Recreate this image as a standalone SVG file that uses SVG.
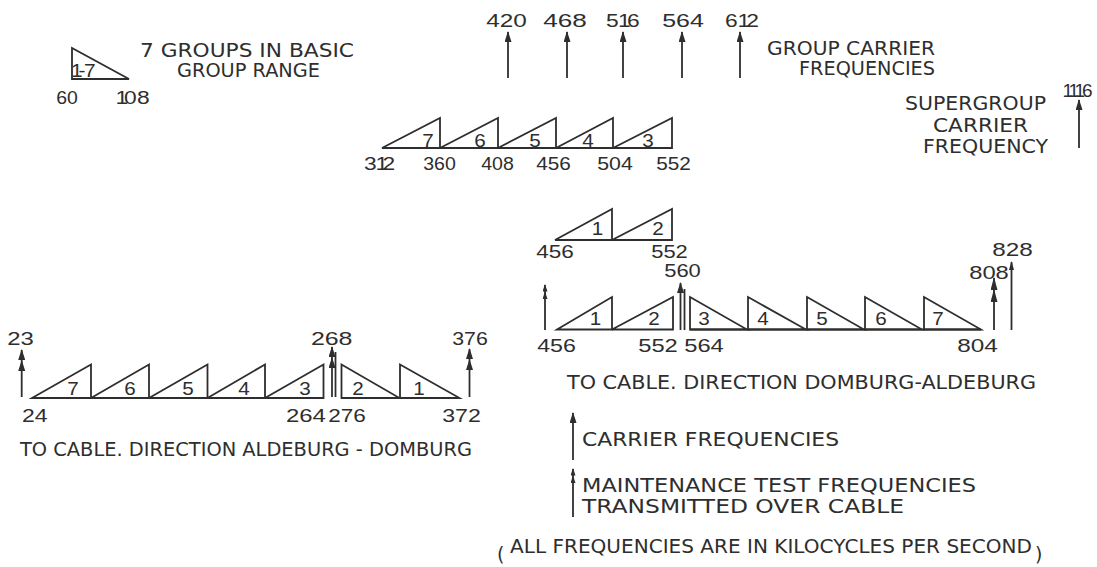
<svg xmlns="http://www.w3.org/2000/svg" width="1097" height="567" viewBox="0 0 1097 567">
<style>
.ln{fill:none;stroke:#2e2e2e;stroke-width:1.8;stroke-linejoin:miter}
.ar{fill:none;stroke:#2e2e2e;stroke-width:1.8}
.t{font-family:"DejaVu Sans","Liberation Sans",sans-serif;fill:#2e2e2e;font-size:19px}
.n{font-family:"Liberation Sans",Arial,sans-serif;fill:#2e2e2e;font-size:19px}
</style>
<defs>
<marker id="a1" markerUnits="userSpaceOnUse" viewBox="0 0 11 7" refX="10" refY="3.5" markerWidth="11" markerHeight="7" orient="auto"><path d="M0,0 L11,3.5 L0,7 Z" fill="#2e2e2e"/></marker>
<marker id="a1s" markerUnits="userSpaceOnUse" viewBox="0 0 9 5" refX="8" refY="2.5" markerWidth="9" markerHeight="5" orient="auto"><path d="M0,0 L9,2.5 L0,5 Z" fill="#2e2e2e"/></marker>
<marker id="a2" markerUnits="userSpaceOnUse" viewBox="0 0 22 7" refX="21" refY="3.5" markerWidth="22" markerHeight="7" orient="auto"><path d="M11,0 L22,3.5 L11,7 Z M0,0 L11,3.5 L0,7 Z" fill="#2e2e2e"/></marker>
<marker id="a2l" markerUnits="userSpaceOnUse" viewBox="0 0 25 7" refX="24" refY="3.5" markerWidth="25" markerHeight="7" orient="auto"><path d="M12,0 L25,3.5 L12,7 Z M0,0 L13,3.5 L0,7 Z" fill="#2e2e2e"/></marker>
<marker id="a2s" markerUnits="userSpaceOnUse" viewBox="0 0 15 5" refX="14" refY="2.5" markerWidth="15" markerHeight="5" orient="auto"><path d="M7.5,0 L15,2.5 L7.5,5 Z M0,0 L7.5,2.5 L0,5 Z" fill="#2e2e2e"/></marker>
</defs>
<rect width="1097" height="567" fill="#ffffff"/>

<g id="legend-basic-group">
<path class="ln" d="M72,48 L72,79 L129,79 Z"/>
<g transform="translate(71,0) scale(1.1,1)"><text class="n" x="0 6.8 11.8" y="77" font-size="17">1-7</text></g>
<text class="n" x="56.2" y="104" textLength="21.6" lengthAdjust="spacingAndGlyphs">60</text>
<g transform="translate(115.5,0) scale(1.2,1)"><text class="n" x="0 7.1 17.9" y="104">108</text></g>
<text class="t" x="140" y="57" textLength="214" lengthAdjust="spacingAndGlyphs">7 GROUPS IN BASIC</text>
<text class="t" x="177" y="77" textLength="143" lengthAdjust="spacingAndGlyphs">GROUP RANGE</text>
</g>

<g id="group-carrier-frequencies">
<text class="n" x="486.2" y="27" textLength="40.6" lengthAdjust="spacingAndGlyphs">420</text>
<text class="n" x="543.2" y="27" textLength="43.6" lengthAdjust="spacingAndGlyphs">468</text>
<g transform="translate(606,0) scale(1.2,1)"><text class="n" x="0 10 17.6" y="27">516</text></g>
<text class="n" x="662.2" y="27" textLength="41.6" lengthAdjust="spacingAndGlyphs">564</text>
<g transform="translate(725,0) scale(1.2,1)"><text class="n" x="0 10.4 17.7" y="27">612</text></g>
<text class="t" x="767" y="55" textLength="168" lengthAdjust="spacingAndGlyphs">GROUP CARRIER</text>
<text class="t" x="799" y="75" textLength="136" lengthAdjust="spacingAndGlyphs">FREQUENCIES</text>
</g>

<g id="supergroup-carrier">
<text class="n" x="1062.5 1068.5 1074.5 1082" y="97">1116</text>
<text class="t" x="905" y="110" textLength="141" lengthAdjust="spacingAndGlyphs">SUPERGROUP</text>
<text class="t" x="933" y="132" textLength="95" lengthAdjust="spacingAndGlyphs">CARRIER</text>
<text class="t" x="923" y="153" textLength="125" lengthAdjust="spacingAndGlyphs">FREQUENCY</text>
</g>

<g id="basic-supergroup">
<g id="sg-7"><path class="ln" d="M382,148 L440,118 L440,148 Z"/><text class="n" x="422.2" y="147" textLength="11.5" lengthAdjust="spacingAndGlyphs">7</text></g>
<g id="sg-6"><path class="ln" d="M440,148 L498,118 L498,148 Z"/><text class="n" x="474.2" y="147" textLength="11.5" lengthAdjust="spacingAndGlyphs">6</text></g>
<g id="sg-5"><path class="ln" d="M498,148 L556,118 L556,148 Z"/><text class="n" x="529.2" y="147" textLength="11.5" lengthAdjust="spacingAndGlyphs">5</text></g>
<g id="sg-4"><path class="ln" d="M556,148 L613,118 L613,148 Z"/><text class="n" x="582.2" y="147" textLength="11.5" lengthAdjust="spacingAndGlyphs">4</text></g>
<g id="sg-3"><path class="ln" d="M613,148 L672,118 L672,148 Z"/><text class="n" x="642.2" y="147" textLength="11.5" lengthAdjust="spacingAndGlyphs">3</text></g>
<g transform="translate(364,0) scale(1.2,1)"><text class="n" x="0 9.6 15.4" y="170">312</text></g>
<text class="n" x="423.2" y="170" textLength="32.6" lengthAdjust="spacingAndGlyphs">360</text>
<text class="n" x="481.2" y="170" textLength="32.6" lengthAdjust="spacingAndGlyphs">408</text>
<text class="n" x="536.2" y="170" textLength="34.6" lengthAdjust="spacingAndGlyphs">456</text>
<text class="n" x="597.2" y="170" textLength="35.6" lengthAdjust="spacingAndGlyphs">504</text>
<text class="n" x="656.2" y="170" textLength="34.6" lengthAdjust="spacingAndGlyphs">552</text>
</g>

<g id="groups-1-2">
<g id="g2-1"><path class="ln" d="M555,240 L612,209 L612,240 Z"/><text class="n" x="591.7" y="235" textLength="11.5" lengthAdjust="spacingAndGlyphs">1</text></g>
<g id="g2-2"><path class="ln" d="M612,240 L672,209 L672,240 Z"/><text class="n" x="652.2" y="235" textLength="11.5" lengthAdjust="spacingAndGlyphs">2</text></g>
<text class="n" x="536.2" y="258" textLength="37.6" lengthAdjust="spacingAndGlyphs">456</text>
<text class="n" x="651.2" y="258" textLength="36.6" lengthAdjust="spacingAndGlyphs">552</text>
<text class="n" x="664.2" y="277" textLength="36.6" lengthAdjust="spacingAndGlyphs">560</text>
</g>

<g id="domburg-aldeburg">
<g id="da-1"><path class="ln" d="M557,329.5 L612,297 L612,329.5 Z"/><text class="n" x="589.7" y="325" textLength="11.5" lengthAdjust="spacingAndGlyphs">1</text></g>
<g id="da-2"><path class="ln" d="M612,329.5 L673,297 L673,329.5 Z"/><text class="n" x="648.2" y="325" textLength="11.5" lengthAdjust="spacingAndGlyphs">2</text></g>
<path class="ln" d="M690,329.5 L981,329.5"/>
<g id="da-3"><path class="ln" d="M690,297 L690,329.5 L747,329.5 Z"/><text class="n" x="698.2" y="325" textLength="11.5" lengthAdjust="spacingAndGlyphs">3</text></g>
<g id="da-4"><path class="ln" d="M748,297 L748,329.5 L806,329.5 Z"/><text class="n" x="757.2" y="325" textLength="11.5" lengthAdjust="spacingAndGlyphs">4</text></g>
<g id="da-5"><path class="ln" d="M807,297 L807,329.5 L864,329.5 Z"/><text class="n" x="816.2" y="325" textLength="11.5" lengthAdjust="spacingAndGlyphs">5</text></g>
<g id="da-6"><path class="ln" d="M865,297 L865,329.5 L922,329.5 Z"/><text class="n" x="875.2" y="325" textLength="11.5" lengthAdjust="spacingAndGlyphs">6</text></g>
<g id="da-7"><path class="ln" d="M924,297 L924,329.5 L981,329.5 Z"/><text class="n" x="932.2" y="325" textLength="11.5" lengthAdjust="spacingAndGlyphs">7</text></g>
<text class="n" x="537.2" y="352" textLength="38.6" lengthAdjust="spacingAndGlyphs">456</text>
<text class="n" x="638.2" y="352" textLength="39.6" lengthAdjust="spacingAndGlyphs">552</text>
<text class="n" x="684.2" y="352" textLength="39.6" lengthAdjust="spacingAndGlyphs">564</text>
<text class="n" x="957.2" y="352" textLength="40.6" lengthAdjust="spacingAndGlyphs">804</text>
<text class="n" x="969.2" y="279" textLength="39.6" lengthAdjust="spacingAndGlyphs">808</text>
<text class="n" x="992.2" y="256" textLength="40.6" lengthAdjust="spacingAndGlyphs">828</text>
<text class="t" x="567" y="389" font-size="18" textLength="469" lengthAdjust="spacingAndGlyphs">TO CABLE. DIRECTION DOMBURG-ALDEBURG</text>
</g>

<g id="aldeburg-domburg">
<g id="ad-7"><path class="ln" d="M32,398 L91,364.5 L91,398 Z"/><text class="n" x="67.2" y="395" textLength="11.5" lengthAdjust="spacingAndGlyphs">7</text></g>
<g id="ad-6"><path class="ln" d="M91,398 L149,364.5 L149,398 Z"/><text class="n" x="124.2" y="395" textLength="11.5" lengthAdjust="spacingAndGlyphs">6</text></g>
<g id="ad-5"><path class="ln" d="M149,398 L207.5,364.5 L207.5,398 Z"/><text class="n" x="182.2" y="395" textLength="11.5" lengthAdjust="spacingAndGlyphs">5</text></g>
<g id="ad-4"><path class="ln" d="M207.5,398 L265,364.5 L265,398 Z"/><text class="n" x="238.2" y="395" textLength="11.5" lengthAdjust="spacingAndGlyphs">4</text></g>
<g id="ad-3"><path class="ln" d="M265,398 L323.5,364.5 L323.5,398 Z"/><text class="n" x="299.2" y="395" textLength="11.5" lengthAdjust="spacingAndGlyphs">3</text></g>
<g id="ad-2"><path class="ln" d="M341.5,364.5 L341.5,398 L399.5,398 Z"/><text class="n" x="352.2" y="395" textLength="11.5" lengthAdjust="spacingAndGlyphs">2</text></g>
<g id="ad-1"><path class="ln" d="M400,364.5 L400,398 L459.5,398 Z"/><text class="n" x="413.2" y="395" textLength="11.5" lengthAdjust="spacingAndGlyphs">1</text></g>
<text class="n" x="7.2" y="345" textLength="26.6" lengthAdjust="spacingAndGlyphs">23</text>
<text class="n" x="310.9" y="345" textLength="41.6" lengthAdjust="spacingAndGlyphs">268</text>
<text class="n" x="452.2" y="345" textLength="35.6" lengthAdjust="spacingAndGlyphs">376</text>
<text class="n" x="21.9" y="422" textLength="25.6" lengthAdjust="spacingAndGlyphs">24</text>
<text class="n" x="285.9" y="422" textLength="39.9" lengthAdjust="spacingAndGlyphs">264</text>
<text class="n" x="328.2" y="422" textLength="37.6" lengthAdjust="spacingAndGlyphs">276</text>
<text class="n" x="442.2" y="422" textLength="38.6" lengthAdjust="spacingAndGlyphs">372</text>
<text class="t" x="20" y="456" font-size="18" textLength="452" lengthAdjust="spacingAndGlyphs">TO CABLE. DIRECTION ALDEBURG - DOMBURG</text>
</g>

<g id="key">
<text class="t" x="582" y="446" textLength="257" lengthAdjust="spacingAndGlyphs">CARRIER FREQUENCIES</text>
<text class="t" x="582" y="492" textLength="394" lengthAdjust="spacingAndGlyphs">MAINTENANCE TEST FREQUENCIES</text>
<text class="t" x="582" y="513" textLength="322" lengthAdjust="spacingAndGlyphs">TRANSMITTED OVER CABLE</text>
</g>

<g id="note">
<text class="t" x="497" y="561" font-size="30">(</text>
<text class="t" x="510" y="553" textLength="522" lengthAdjust="spacingAndGlyphs">ALL FREQUENCIES ARE IN KILOCYCLES PER SECOND</text>
<text class="t" x="1035" y="561" font-size="30">)</text>
</g>

<g id="connectors">
<line class="ar" x1="508" y1="78" x2="508" y2="32" marker-end="url(#a1)"/>
<line class="ar" x1="567" y1="78" x2="567" y2="32" marker-end="url(#a1)"/>
<line class="ar" x1="623" y1="78" x2="623" y2="32" marker-end="url(#a1)"/>
<line class="ar" x1="682" y1="78" x2="682" y2="32" marker-end="url(#a1)"/>
<line class="ar" x1="740" y1="78" x2="740" y2="32" marker-end="url(#a1)"/>
<line class="ar" x1="1079" y1="148" x2="1079" y2="100" marker-end="url(#a1)"/>
<line class="ar" x1="21.7" y1="397" x2="21.7" y2="350" marker-end="url(#a2)"/>
<line class="ar" x1="332" y1="397" x2="332" y2="347" marker-end="url(#a2)"/>
<line class="ar" x1="335.5" y1="397" x2="335.5" y2="352"/>
<line class="ar" x1="469.5" y1="397" x2="469.5" y2="349" marker-end="url(#a2)"/>
<line class="ar" x1="545" y1="330" x2="545" y2="285" marker-end="url(#a2s)"/>
<line class="ar" x1="680.5" y1="330" x2="680.5" y2="283" marker-end="url(#a1)"/>
<line class="ar" x1="684.5" y1="330" x2="684.5" y2="289"/>
<line class="ar" x1="994" y1="330" x2="994" y2="278" marker-end="url(#a2l)"/>
<line class="ar" x1="1011.5" y1="330" x2="1011.5" y2="262" marker-end="url(#a1s)"/>
<line class="ar" x1="573" y1="460" x2="573" y2="413" marker-end="url(#a1)"/>
<line class="ar" x1="573" y1="517" x2="573" y2="469" marker-end="url(#a2s)"/>
</g>
</svg>
